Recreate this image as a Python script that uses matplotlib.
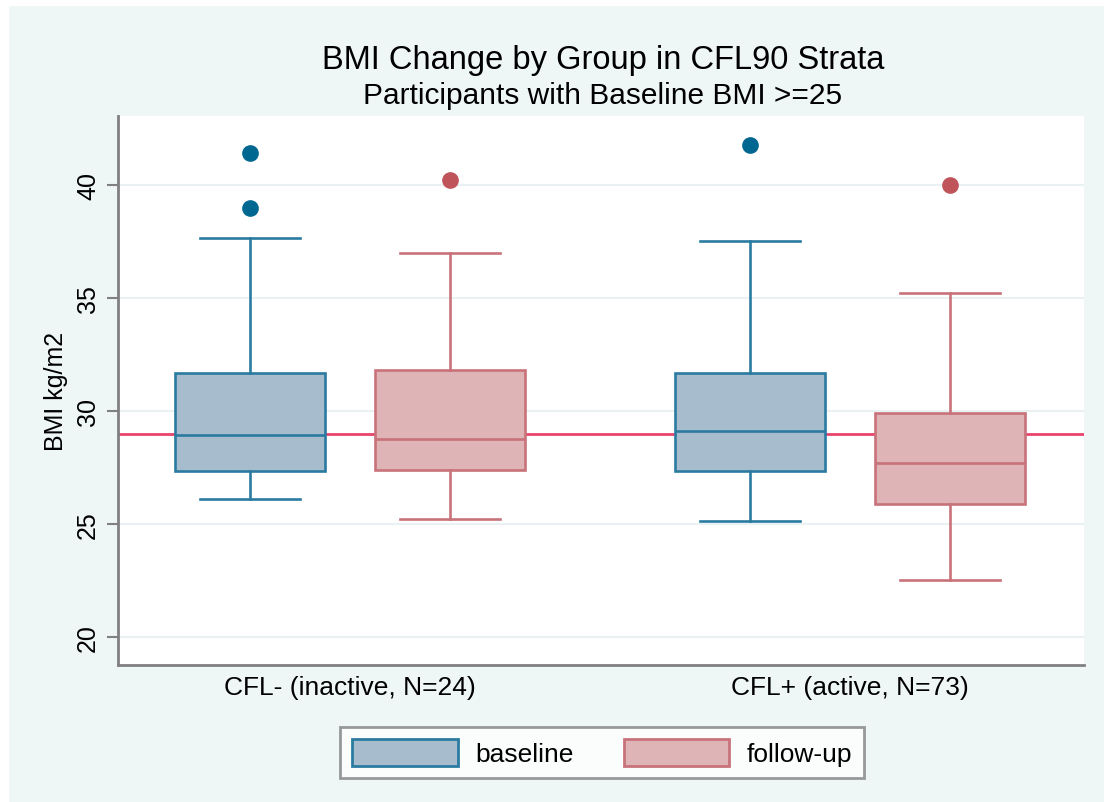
import numpy as np
import matplotlib.pyplot as plt
from matplotlib.patches import Patch, Rectangle

plt.rcParams['font.family'] = ['Liberation Sans', 'DejaVu Sans']

# summary stats read per group (BMI kg/m2)
groups = ["CFL- (inactive, N=24)", "CFL+ (active, N=73)"]
series = ["baseline", "follow-up"]

# order: [CFL- baseline, CFL- follow-up, CFL+ baseline, CFL+ follow-up]
whislo = [26.1, 25.2, 25.15, 22.5]
q1 = [27.35, 27.4, 27.35, 25.9]
med = [28.95, 28.75, 29.1, 27.7]
q3 = [31.7, 31.8, 31.7, 29.9]
whishi = [37.65, 37.0, 37.5, 35.2]
fliers = [[41.4, 39.0], [40.2], [41.75], [40.0]]

ref_line = 29.0
yticks = [20, 25, 30, 35, 40]

edge_cols = ["#2b7ba1", "#c8727a"]
fill_cols = ["#a7bccc", "#dfb4b6"]
dot_cols = ["#006791", "#c0545b"]
bg = "#eef6f6"

fig = plt.figure(figsize=(11.04, 8.03), dpi=100, facecolor=bg)
# thin white strips along top and left edge
fig.patches.append(Rectangle((0, 1 - 6 / 803), 1, 6 / 803,
                             transform=fig.transFigure, color="white", zorder=-10))
fig.patches.append(Rectangle((0, 0), 8 / 1104, 1,
                             transform=fig.transFigure, color="white", zorder=-10))

ax = fig.add_axes([0.1069, 0.1706, 0.875, 0.6837])
ax.set_facecolor("white")

positions = [1, 2, 3.5, 4.5]
for i, pos in enumerate(positions):
    s = i % 2
    st = dict(whislo=whislo[i], q1=q1[i], med=med[i], q3=q3[i],
              whishi=whishi[i], fliers=fliers[i])
    lw = 1.9
    ax.bxp([st], positions=[pos], widths=0.75, capwidths=0.5,
           patch_artist=True, showfliers=True,
           boxprops=dict(facecolor=fill_cols[s], edgecolor=edge_cols[s], linewidth=lw),
           medianprops=dict(color=edge_cols[s], linewidth=lw),
           whiskerprops=dict(color=edge_cols[s], linewidth=lw),
           capprops=dict(color=edge_cols[s], linewidth=lw),
           flierprops=dict(marker="o", markersize=11, markerfacecolor=dot_cols[s],
                           markeredgecolor=dot_cols[s]),
           zorder=3)

ax.axhline(ref_line, color="#e8436b", linewidth=2, zorder=2)

ax.set_xlim(0.34, 5.17)
ax.set_ylim(18.76, 43.05)
ax.set_yticks(yticks)
ax.set_yticklabels([str(t) for t in yticks], rotation=90, va="center", fontsize=18)
ax.tick_params(axis="y", length=8, width=1.5, color="#808080", pad=5)
ax.set_xticks([1.5, 4.0])
ax.set_xticklabels(groups, fontsize=19)
ax.tick_params(axis="x", length=0, pad=7)
ax.grid(axis="y", color="#eaf1f2", linewidth=1.5, zorder=0)
ax.set_axisbelow(True)

for side in ["top", "right"]:
    ax.spines[side].set_visible(False)
for side in ["left", "bottom"]:
    ax.spines[side].set_color("#808080")
    ax.spines[side].set_linewidth(2)

ax.set_ylabel("BMI kg/m2", fontsize=18, labelpad=6)

fig.text(0.546, 1 - 61 / 803, "BMI Change by Group in CFL90 Strata", ha="center",
         va="center", fontsize=23.5)
fig.text(0.546, 1 - 96 / 803, "Participants with Baseline BMI >=25", ha="center",
         va="center", fontsize=21.5)

handles = [Patch(facecolor=fill_cols[k], edgecolor=edge_cols[k], linewidth=2)
           for k in range(2)]
leg = fig.legend(handles, series, loc="center", bbox_to_anchor=(0.5453, 0.0616),
                 ncol=2, fontsize=19, frameon=True, fancybox=False,
                 handlelength=4.0, handleheight=1.25, columnspacing=1.9,
                 handletextpad=0.65, borderpad=0.45)
leg.get_frame().set_edgecolor("#808080")
leg.get_frame().set_linewidth(2)

fig.savefig("out.png", dpi=100, facecolor=fig.get_facecolor())
